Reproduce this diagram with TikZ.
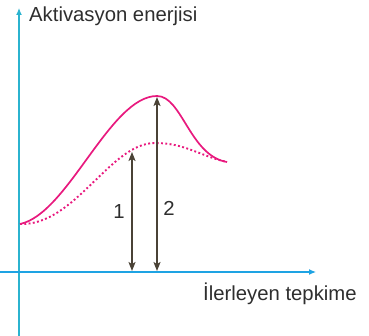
\documentclass[tikz,border=0pt]{standalone}
\usepackage{fontspec}
\setmainfont{Liberation Sans}
\usetikzlibrary{arrows.meta}
\definecolor{yaxc}{HTML}{2BB3CF}
\definecolor{xaxc}{HTML}{1EA3E3}
\definecolor{curvec}{HTML}{E8197E}
\definecolor{arrc}{HTML}{4A4236}
\definecolor{txtc}{HTML}{2E2E2E}
\begin{document}
\begin{tikzpicture}[x=1pt,y=-1pt,
  axisy/.style={draw=yaxc,line width=1.2pt,-{Latex[length=7pt,width=6pt]}},
  axisx/.style={draw=xaxc,line width=1.2pt,-{Latex[length=7pt,width=6pt]}},
  curve/.style={draw=curvec,line width=1.7pt},
  dotcurve/.style={draw=curvec,line width=1.9pt,dash pattern=on 1.9pt off 2.4pt},
  dblarrow/.style={draw=arrc,line width=1.2pt,{Stealth[length=9pt,width=7pt,inset=2pt]}-{Stealth[length=9pt,width=7pt,inset=2pt]}},
  lbl/.style={text=txtc,font=\fontsize{20.3}{22}\selectfont,inner sep=0pt}]
\useasboundingbox (0,0) rectangle (369,336);
% axes
\coordinate (ybot) at (19,336);
\coordinate (ytop) at (19,8);
\coordinate (xleft) at (0,272);
\coordinate (xright) at (316,272);
\draw[axisy] (ybot) -- (ytop);
\draw[axisx] (xleft) -- (xright);
\node[lbl,anchor=west] (ylab) at (29,16) {Aktivasyon enerjisi};
\node[lbl,anchor=west] (xlab) at (203,294) {İlerleyen tepkime};
% curves
\coordinate (start) at (20,224);
\coordinate (peak2) at (157,96);
\coordinate (peak1) at (155,143);
\coordinate (endc) at (227,162);
\draw[dotcurve] (start) .. controls (75,226) and (110,143) .. (peak1)
  .. controls (185,143) and (200,156) .. (endc);
\draw[curve] (start) .. controls (68,214) and (110,96) .. (peak2)
  .. controls (182,96) and (190,156) .. (endc);
% arrows
\coordinate (a1top) at (132,152);
\coordinate (a1bot) at (132,271);
\coordinate (a2top) at (157,97);
\coordinate (a2bot) at (157,271);
\draw[dblarrow] (a1bot) -- (a1top);
\draw[dblarrow] (a2bot) -- (a2top);
\node[lbl] (l1) at (119,212) {1};
\node[lbl] (l2) at (169,208) {2};
\end{tikzpicture}
\end{document}
